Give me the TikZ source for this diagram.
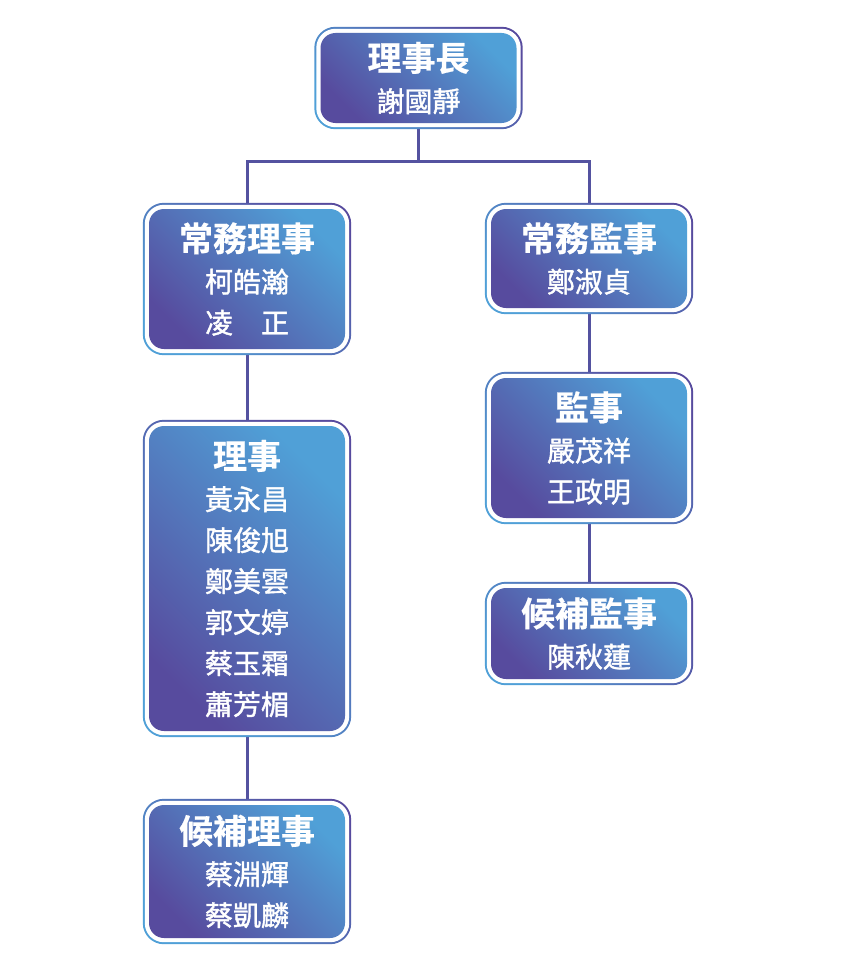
\documentclass[tikz,border=0pt]{standalone}
\usepackage{fontspec}
\newfontfamily\cjk{Noto Sans CJK TC}[FakeBold=1.4, BoldFont={Noto Sans CJK TC Bold}, BoldFeatures={FakeBold=0.6}]
\usepackage{tikz}
\usetikzlibrary{backgrounds}
\definecolor{deepviolet}{RGB}{87,75,158}
\definecolor{skyblue}{RGB}{80,160,215}
\definecolor{linkcol}{RGB}{84,82,160}
\tikzstyle{box}=[rounded corners=15pt, bottom color=deepviolet, top color=skyblue, shading angle=-45, minimum width=196pt, text width=190pt, align=center, text=white, inner sep=0pt, font=\cjk\fontsize{28}{41}\selectfont]
\tikzstyle{frame}=[rounded corners=21pt, bottom color=skyblue, top color=deepviolet, shading angle=-45]
\tikzstyle{gap}=[rounded corners=19pt, fill=white]
\tikzstyle{link}=[draw=linkcol, line width=3pt]
\newcommand{\ttl}[1]{{\fontsize{34}{41}\selectfont\bfseries #1}}

\begin{document}
\begin{tikzpicture}[x=1pt, y=1pt]
    \useasboundingbox (0,0) rectangle (851,-974);

    \node[box, minimum height=90pt] (chair) at (418.5,-78) {\ttl{理事長}\\謝國靜};

    \node[box, minimum height=140pt] (stdir) at (247,-279) {\ttl{常務理事}\\柯皓瀚\\凌　正};
    \node[box, minimum height=305pt] (dir) at (247,-578.5) {\ttl{理事}\\黃永昌\\陳俊旭\\鄭美雲\\郭文婷\\蔡玉霜\\蕭芳楣};
    \node[box, minimum height=133pt] (altdir) at (247,-871.5) {\ttl{候補理事}\\蔡淵輝\\蔡凱麟};

    \node[box, minimum height=99pt] (stsup) at (589,-258.5) {\ttl{常務監事}\\鄭淑貞};
    \node[box, minimum height=140pt] (supv) at (589,-448) {\ttl{監事}\\嚴茂祥\\王政明};
    \node[box, minimum height=91pt] (altsup) at (589,-633.5) {\ttl{候補監事}\\陳秋蓮};

    \begin{scope}[on background layer]
        \path[link] (chair.south) -- ++(0,-38) coordinate (fork) -| (stdir.north);
        \path[link] (fork) -| (stsup.north);
        \foreach \upper/\lower in {stdir/dir, dir/altdir, stsup/supv, supv/altsup}
            \path[link] (\upper.south) -- (\lower.north);

        % double border round each box
        \foreach \n in {chair, stdir, dir, altdir, stsup, supv, altsup} {
            \path[frame] ([shift={(-6pt,6pt)}]\n.north west) rectangle ([shift={(6pt,-6pt)}]\n.south east);
            \path[gap] ([shift={(-4pt,4pt)}]\n.north west) rectangle ([shift={(4pt,-4pt)}]\n.south east);
        }
    \end{scope}
\end{tikzpicture}
\end{document}
